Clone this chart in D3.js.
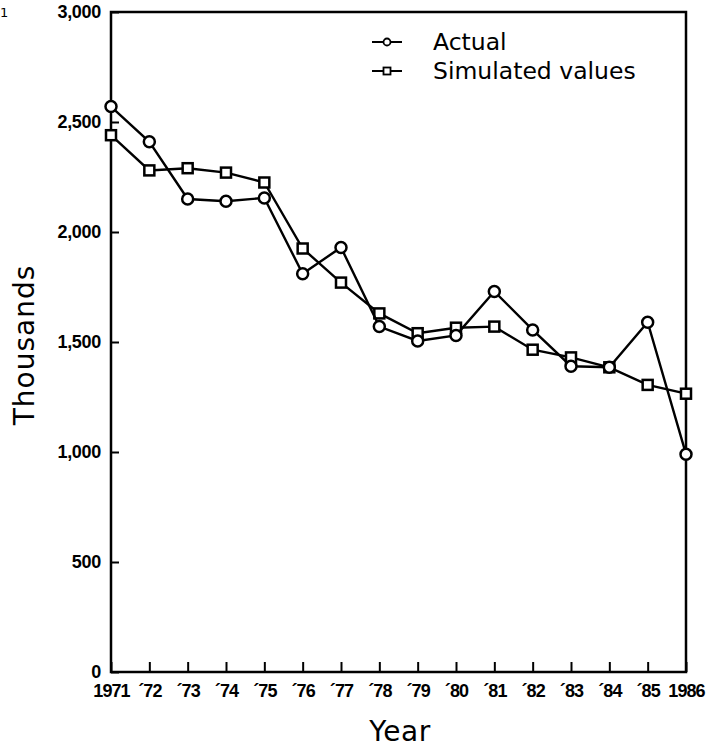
<!DOCTYPE html>
<html>
<head>
<meta charset="utf-8">
<script src="https://cdnjs.cloudflare.com/ajax/libs/d3/7.8.5/d3.min.js"></script>
<style>
  body { margin: 0; background: #fff; }
  svg { display: block; font-family: "DejaVu Sans", sans-serif; }
</style>
</head>
<body>
<svg id="chart"></svg>
<script>
// values (thousands)
var years = [1971, 1972, 1973, 1974, 1975, 1976, 1977, 1978, 1979, 1980, 1981, 1982, 1983, 1984, 1985, 1986];
var actual = [2570, 2410, 2150, 2140, 2155, 1810, 1930, 1570, 1505, 1530, 1730, 1555, 1390, 1385, 1590, 990];
var simulated = [2440, 2280, 2290, 2270, 2225, 1925, 1770, 1630, 1540, 1565, 1570, 1465, 1430, 1385, 1305, 1265];
var yTicks = [0, 500, 1000, 1500, 2000, 2500, 3000];
var seriesNames = ["Actual", "Simulated values"];

var width = 722, height = 749;
var plotLeft = 111, plotRight = 686, plotTop = 12, plotBottom = 672;

var svg = d3.select("#chart")
    .attr("width", width)
    .attr("height", height);

var x = d3.scaleLinear().domain([1971, 1986]).range([plotLeft, plotRight]);
var y = d3.scaleLinear().domain([0, 3000]).range([plotBottom, plotTop]);

// figure number fragment at the corner
svg.append("text")
    .attr("x", 0).attr("y", 17)
    .attr("font-size", 13)
    .text("1");

// y axis, ticks pointing inward
var yAxis = svg.append("g")
    .attr("transform", "translate(" + plotLeft + ",0)")
    .call(d3.axisLeft(y)
        .tickValues(yTicks)
        .tickSizeInner(-8)
        .tickSizeOuter(0)
        .tickPadding(10)
        .tickFormat(d3.format(",")));
yAxis.select(".domain").remove();
yAxis.selectAll("line").attr("stroke-width", 2);
yAxis.selectAll("text")
    .attr("font-size", 18)
    .attr("font-weight", "bold")
    .attr("letter-spacing", -0.3)
    .attr("fill", "#000");

// x axis
var xAxis = svg.append("g")
    .attr("transform", "translate(0," + plotBottom + ")")
    .call(d3.axisBottom(x)
        .tickValues(years)
        .tickSizeInner(-10)
        .tickSizeOuter(0)
        .tickPadding(12)
        .tickFormat(d => (d === 1971 || d === 1986) ? String(d) : "\u00B4" + String(d).slice(2)));
xAxis.select(".domain").remove();
xAxis.selectAll("line").attr("stroke-width", 2);
xAxis.selectAll("text")
    .attr("font-size", 18)
    .attr("font-weight", "bold")
    .attr("letter-spacing", -0.9)
    .attr("fill", "#000");

// frame
svg.append("rect")
    .attr("x", plotLeft).attr("y", plotTop)
    .attr("width", plotRight - plotLeft).attr("height", plotBottom - plotTop)
    .attr("fill", "none")
    .attr("stroke", "#000")
    .attr("stroke-width", 2.5);

// axis titles
svg.append("text")
    .attr("x", 400).attr("y", 741)
    .attr("text-anchor", "middle")
    .attr("font-size", 28)
    .attr("letter-spacing", 0.5)
    .text("Year");

svg.append("text")
    .attr("transform", "translate(34,345) rotate(-90)")
    .attr("text-anchor", "middle")
    .attr("font-size", 28)
    .attr("letter-spacing", 1)
    .text("Thousands");

// series
var line = d3.line().x((d, i) => x(years[i])).y(d => y(d));

function drawSeries(values, shape) {
  svg.append("path")
      .datum(values)
      .attr("d", line)
      .attr("fill", "none")
      .attr("stroke", "#000")
      .attr("stroke-width", 2.4);
  var g = svg.append("g");
  if (shape === "circle") {
    g.selectAll("circle").data(values).enter().append("circle")
        .attr("cx", (d, i) => x(years[i]))
        .attr("cy", d => y(d))
        .attr("r", 5.5)
        .attr("fill", "#fff")
        .attr("stroke", "#000")
        .attr("stroke-width", 2.5);
  } else {
    g.selectAll("rect").data(values).enter().append("rect")
        .attr("x", (d, i) => x(years[i]) - 5)
        .attr("y", d => y(d) - 5)
        .attr("width", 10).attr("height", 10)
        .attr("fill", "#fff")
        .attr("stroke", "#000")
        .attr("stroke-width", 2.5);
  }
}

drawSeries(simulated, "square");
drawSeries(actual, "circle");

// legend
var legend = svg.append("g").attr("transform", "translate(372,0)");
var legendY = [42, 71];
seriesNames.forEach((name, i) => {
  var ly = legendY[i];
  legend.append("line")
      .attr("x1", 0).attr("x2", 30)
      .attr("y1", ly).attr("y2", ly)
      .attr("stroke", "#000").attr("stroke-width", 2);
  if (i === 0) {
    legend.append("circle")
        .attr("cx", 15).attr("cy", ly).attr("r", 3.5)
        .attr("fill", "#fff").attr("stroke", "#000").attr("stroke-width", 1.8);
  } else {
    legend.append("rect")
        .attr("x", 11.5).attr("y", ly - 3.5).attr("width", 7).attr("height", 7)
        .attr("fill", "#fff").attr("stroke", "#000").attr("stroke-width", 1.8);
  }
  legend.append("text")
      .attr("x", 61).attr("y", ly)
      .attr("dy", "0.36em")
      .attr("font-size", 23.5)
      .text(name);
});
</script>
</body>
</html>
